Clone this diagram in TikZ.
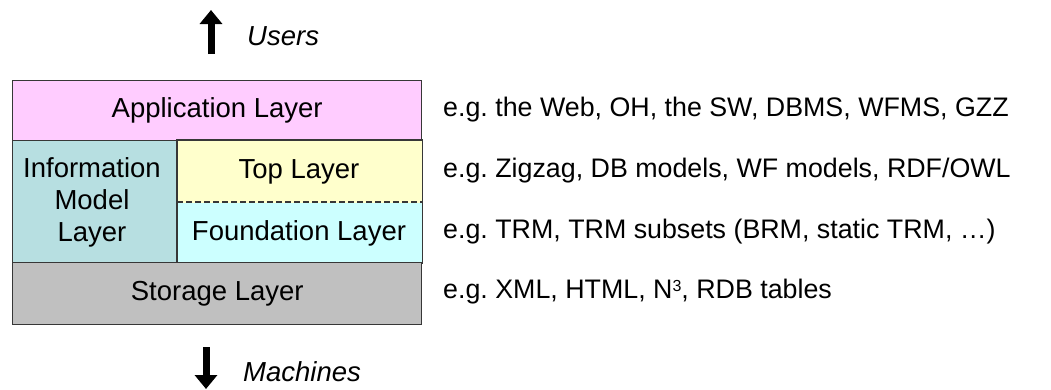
\documentclass[tikz,border=0pt]{standalone}
\usepackage{fontspec}
\setmainfont{Liberation Sans}
\usetikzlibrary{arrows.meta}
\definecolor{appc}{RGB}{255,204,255}
\definecolor{infoc}{RGB}{183,223,225}
\definecolor{topc}{RGB}{255,255,204}
\definecolor{foundc}{RGB}{204,255,255}
\definecolor{storc}{RGB}{192,192,192}
\definecolor{edgec}{RGB}{55,55,55}
\tikzset{
  layer/.style={draw=edgec, line width=1.4pt, inner sep=0pt, anchor=north west},
  lbl/.style={font=\fontsize{27.5}{31}\selectfont, text=black},
  note/.style={font=\fontsize{26.8}{31}\selectfont, anchor=west, inner sep=0pt},
  bigarrow/.style={line width=7pt, -{Triangle[length=14pt,width=22pt]}}
}
\begin{document}
\frenchspacing
\begin{tikzpicture}[x=1pt,y=-1pt]
\useasboundingbox (0,0) rectangle (1051,389);
% layers
\node[layer, fill=appc, minimum width=409pt, minimum height=60pt] (app) at (12,80) {};
\node[lbl] at (app.center) {Application Layer};
\node[layer, fill=infoc, minimum width=165pt, minimum height=122pt] (info) at (12,140) {};
\node[lbl, align=center, font=\fontsize{27.5}{32}\selectfont] at (92,202) {Information\\Model\\Layer};
\node[layer, draw=none, fill=topc, minimum width=244pt, minimum height=62pt] (top) at (177,140) {};
\node[lbl] at (299,172) {Top Layer};
\node[layer, draw=none, fill=foundc, minimum width=244pt, minimum height=60pt] (found) at (177,202) {};
\node[lbl] at (299,233) {Foundation Layer};
\draw[edgec, line width=1.2pt, dash pattern=on 6pt off 3pt] (found.north west) -- (found.north east);
\draw[edgec, line width=1.4pt] (top.north west) rectangle (found.south east);
\node[layer, fill=storc, minimum width=409pt, minimum height=62pt] (stor) at (12,262) {};
\node[lbl] at (stor.center) {Storage Layer};
% arrows
\coordinate (ua) at (211,54);
\coordinate (ub) at (211,10);
\draw[bigarrow] (ua) -- (ub);
\node[note, font=\fontsize{27.5}{31}\selectfont\itshape] (users) at (247,36) {Users};
\coordinate (da) at (206,347);
\coordinate (db) at (206,389);
\draw[bigarrow] (da) -- (db);
\node[note, font=\fontsize{27.5}{31}\selectfont\itshape] (mach) at (243,372) {Machines};
% notes
\node[note] (n1) at (443,110) {e.g. the Web, OH, the SW, DBMS, WFMS, GZZ};
\node[note] (n2) at (443,171) {e.g. Zigzag, DB models, WF models, RDF/OWL};
\node[note] (n3) at (443,232) {e.g. TRM, TRM subsets (BRM, static TRM, \dots)};
\node[note] (n4) at (443,292) {e.g. XML, HTML, N\raisebox{0.55ex}{\fontsize{16}{16}\selectfont 3}, RDB tables};
\end{tikzpicture}
\end{document}
